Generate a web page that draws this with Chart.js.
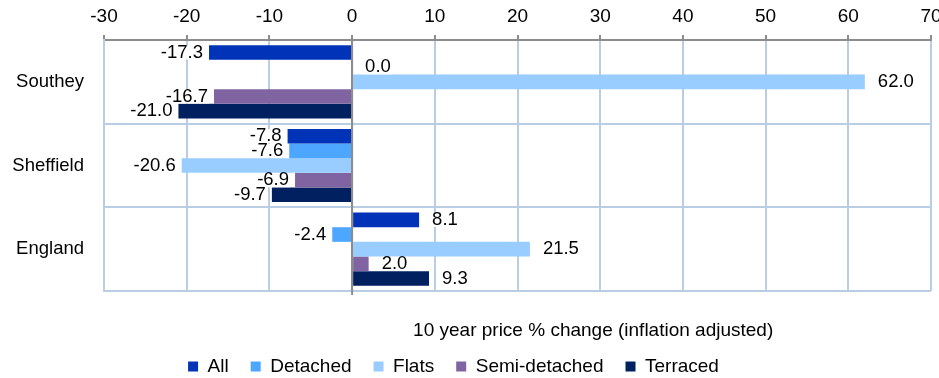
<!DOCTYPE html>
<html><head><meta charset="utf-8">
<script src="https://cdn.jsdelivr.net/npm/chart.js@4.4.1/dist/chart.umd.min.js"></script>
<style>html,body{margin:0;padding:0;background:#fff}#wrap{position:relative;width:939px;height:378px}</style>
</head><body><div id="wrap"><canvas id="c" width="939" height="378"></canvas></div>
<script>
const categories = ['Southey', 'Sheffield', 'England'];
const seriesNames = ['All', 'Detached', 'Flats', 'Semi-detached', 'Terraced'];
const allValues = [-17.3, -7.8, 8.1];
const detachedValues = [0.0, -7.6, -2.4];
const flatsValues = [62.0, -20.6, 21.5];
const semiValues = [-16.7, -6.9, 2.0];
const terracedValues = [-21.0, -9.7, 9.3];
const xTicks = [-30, -20, -10, 0, 10, 20, 30, 40, 50, 60, 70];
const axisTitle = '10 year price % change (inflation adjusted)';

const seriesColors = ['#0033B7', '#4DA6FF', '#99CCFF', '#8064A2', '#002060'];
const FONT = '"Liberation Sans", Arial, sans-serif';
const GRID = '#B9CDE5';
const AXIS = '#8C8C8C';

const seriesValues = [allValues, detachedValues, flatsValues, semiValues, terracedValues];

const labelPlugin = {
  id: 'barLabels',
  afterDatasetsDraw(chart) {
    const ctx = chart.ctx;
    const xs = chart.scales.x;
    const area = chart.chartArea;
    ctx.save();
    const x0 = xs.getPixelForValue(0);
    ctx.strokeStyle = AXIS;
    ctx.lineWidth = 2;
    ctx.beginPath();
    ctx.moveTo(x0, area.top);
    ctx.lineTo(x0, area.bottom + 4);
    ctx.stroke();
    ctx.font = '18.5px ' + FONT;
    ctx.textBaseline = 'middle';
    chart.data.datasets.forEach((ds, di) => {
      const meta = chart.getDatasetMeta(di);
      meta.data.forEach((bar, i) => {
        const v = ds.data[i];
        const txt = v.toFixed(1);
        const w = ctx.measureText(txt).width;
        let left;
        if (v >= 0) { left = bar.x + 13; } else { left = bar.x - 6 - w; }
        ctx.fillStyle = '#fff';
        ctx.fillRect(left - 1, bar.y - 7, w + 2, 14);
        ctx.fillStyle = '#000';
        ctx.textAlign = 'left';
        ctx.fillText(txt, left, bar.y);
      });
    });
    ctx.restore();
  },
  afterDraw(chart) {
    const ctx = chart.ctx;
    const area = chart.chartArea;
    ctx.save();
    ctx.font = '19px ' + FONT;
    ctx.fillStyle = '#000';
    ctx.textAlign = 'center';
    ctx.textBaseline = 'middle';
    ctx.fillText(axisTitle, area.left + (area.right - area.left) * 0.5915, area.bottom + 40);
    ctx.restore();
  }
};

new Chart(document.getElementById('c'), {
  type: 'bar',
  data: {
    labels: categories,
    datasets: seriesNames.map((name, k) => ({
      label: name,
      data: seriesValues[k],
      backgroundColor: seriesColors[k],
      borderWidth: 0,
      categoryPercentage: 0.875,
      barPercentage: 1.0
    }))
  },
  options: {
    indexAxis: 'y',
    responsive: false,
    animation: false,
    devicePixelRatio: 1,
    layout: { padding: { left: -24, right: 8, top: 0, bottom: -8 } },
    plugins: {
      legend: {
        position: 'bottom',
        labels: {
          boxWidth: 10, boxHeight: 10, padding: 22, color: '#000',
          font: { family: FONT, size: 19 }
        }
      },
      tooltip: { enabled: false }
    },
    scales: {
      x: {
        position: 'top',
        min: -30, max: 70,
        afterBuildTicks: s => { s.ticks = xTicks.map(v => ({ value: v })); },
        afterFit: s => { s.height = 40; s.paddingLeft = 0; s.paddingRight = 0; },
        ticks: { color: '#000', padding: 7, font: { family: FONT, size: 19 }, maxRotation: 0 },
        grid: {
          color: c => (c.tick && c.tick.value === 0) ? AXIS : GRID,
          lineWidth: 2, drawTicks: true, tickLength: 5, tickColor: AXIS, tickWidth: 2
        },
        border: { display: true, color: AXIS, width: 2 }
      },
      x2: {
        type: 'linear',
        position: 'bottom',
        display: true,
        afterFit: s => { s.height = 44; s.paddingLeft = 0; s.paddingRight = 0; },
        ticks: { display: false },
        grid: { display: false, drawTicks: false },
        border: { display: false }
      },
      y: {
        afterFit: s => { s.width = 128; },
        ticks: { color: '#000', padding: 20, font: { family: FONT, size: 18.5 } },
        grid: {
          color: c => (c.index === 0) ? 'rgba(0,0,0,0)' : GRID,
          lineWidth: 2, drawTicks: false, offset: true
        },
        border: { display: true, color: GRID, width: 2 }
      }
    }
  },
  plugins: [labelPlugin]
});
</script>
</body></html>
